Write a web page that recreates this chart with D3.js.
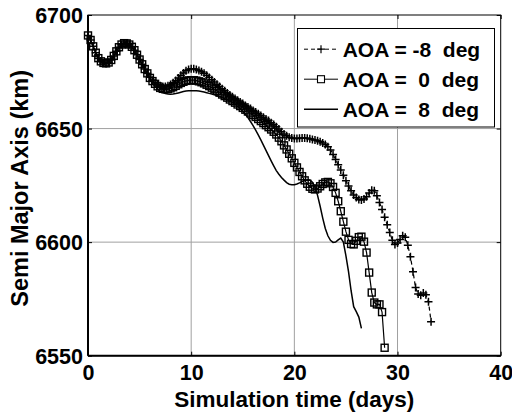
<!DOCTYPE html>
<html><head><meta charset="utf-8">
<script src="https://cdn.jsdelivr.net/npm/d3@7"></script>
<style>
html,body{margin:0;padding:0;background:#fff;}
text{font-family:"Liberation Sans",Arial,sans-serif;font-weight:bold;fill:#000;}
</style></head>
<body><svg id="c" width="512" height="417"></svg>
<script>
// ---------------- data ----------------
const timeStep = 0.25; // days between samples
const xTicks = [0, 10, 20, 30, 40];
const yTicks = [6550, 6600, 6650, 6700];
const legendLabels = ["AOA = -8  deg", "AOA =  0  deg", "AOA =  8  deg"];

// shared start of all three runs (t = 0 .. 5.5)
const sharedStart = [6691.0, 6689.0, 6686.2, 6683.4, 6681.0, 6679.6, 6678.9, 6678.7, 6679.1, 6680.2,
  6682.0, 6684.0, 6685.8, 6687.0, 6687.6, 6687.5, 6687.0, 6686.0, 6684.5, 6682.5,
  6680.4, 6678.3, 6676.2];

// AOA = -8 deg, from t = 5.75
const aoaMinus8 = [6674.3, 6672.6, 6671.2, 6670.2, 6669.3, 6668.8, 6668.5, 6668.5, 6668.8, 6669.4,
  6670.2, 6671.2, 6672.3, 6673.5, 6674.5, 6675.4, 6676.0, 6676.3, 6676.3, 6676.0,
  6675.6, 6675.0, 6674.3, 6673.5, 6672.5, 6671.5, 6670.5, 6669.5, 6668.5, 6667.5,
  6666.6, 6665.7, 6664.8, 6664.0, 6663.2, 6662.5, 6661.7, 6661.0, 6660.2, 6659.5,
  6658.8, 6658.0, 6657.3, 6656.5, 6655.8, 6655.0, 6654.2, 6653.5, 6652.6, 6651.8,
  6650.8, 6649.8, 6648.6, 6647.6, 6646.8, 6646.2, 6645.8, 6645.6, 6645.6, 6645.7,
  6645.8, 6645.8, 6645.7, 6645.5, 6645.2, 6645.0, 6644.6, 6644.2, 6643.6, 6643.0,
  6642.0, 6640.6, 6638.6, 6636.4, 6634.1, 6631.8, 6629.4, 6627.0, 6624.7, 6622.6,
  6620.8, 6619.6, 6618.8, 6618.6, 6619.0, 6620.0, 6621.6, 6622.8, 6622.6, 6620.4,
  6617.4, 6614.4, 6611.0, 6607.6, 6604.2, 6600.8, 6599.0, 6599.6, 6601.2, 6602.8,
  6602.2, 6598.6, 6593.6, 6587.0, 6580.0, 6577.2, 6576.6, 6577.6, 6576.8, 6573.8,
  6565.0];

// AOA = 0 deg, from t = 5.75
const aoaZero = [6674.3, 6672.3, 6670.9, 6669.7, 6668.6, 6667.9, 6667.5, 6667.3, 6667.4, 6667.7,
  6668.2, 6668.8, 6669.5, 6670.1, 6670.6, 6671.0, 6671.2, 6671.3, 6671.3, 6671.1,
  6670.8, 6670.4, 6669.9, 6669.3, 6668.7, 6668.0, 6667.3, 6666.6, 6665.8, 6665.0,
  6664.3, 6663.6, 6662.8, 6662.1, 6661.4, 6660.6, 6659.9, 6659.1, 6658.3, 6657.5,
  6656.7, 6655.9, 6655.1, 6654.2, 6653.3, 6652.4, 6651.5, 6650.6, 6649.6, 6648.6,
  6647.4, 6646.0, 6644.4, 6642.6, 6640.8, 6638.9, 6636.9, 6634.9, 6632.9, 6630.9,
  6629.0, 6627.2, 6625.7, 6624.4, 6623.5, 6623.2, 6623.6, 6624.6, 6625.6, 6626.3,
  6626.5, 6625.9, 6624.3, 6621.7, 6618.0, 6613.6, 6609.0, 6604.6, 6601.0, 6599.2,
  6599.0, 6600.6, 6602.2, 6602.4, 6600.2, 6595.4, 6586.6, 6577.8, 6573.4, 6572.6,
  6572.6, 6569.2, 6553.5];

// AOA = 8 deg, from t = 5.75
const aoaPlus8 = [6674.0, 6671.8, 6670.0, 6668.5, 6667.3, 6666.4, 6665.8, 6665.4, 6665.2, 6665.1,
  6665.2, 6665.4, 6665.7, 6666.0, 6666.3, 6666.5, 6666.6, 6666.7, 6666.7, 6666.6,
  6666.5, 6666.3, 6666.1, 6665.8, 6665.5, 6665.2, 6664.9, 6664.5, 6664.1, 6663.7,
  6663.2, 6662.7, 6662.1, 6661.5, 6660.7, 6659.8, 6658.8, 6657.6, 6656.3, 6654.8,
  6653.1, 6651.3, 6649.3, 6647.2, 6645.0, 6642.7, 6640.4, 6638.1, 6635.8, 6633.6,
  6631.5, 6629.9, 6628.5, 6627.3, 6626.2, 6625.5, 6625.3, 6625.3, 6625.6, 6626.1,
  6626.7, 6627.2, 6627.5, 6627.4, 6626.4, 6624.2, 6620.6, 6615.8, 6610.6, 6606.0,
  6602.8, 6600.8, 6599.9, 6600.0, 6601.0, 6601.8, 6600.0, 6594.0, 6587.0, 6578.6,
  6571.6, 6569.4, 6567.0, 6562.0];

// ---------------- chart ----------------
const svg = d3.select("#c");
const m = {left: 88, top: 15, right: 11.3, bottom: 61.3};
const W = 512 - m.left - m.right, H = 417 - m.top - m.bottom;
const x = d3.scaleLinear().domain([0, 40]).range([0, W]);
const y = d3.scaleLinear().domain([6550, 6700]).range([H, 0]);
const g = svg.append("g").attr("transform", `translate(${m.left},${m.top})`);
const fmt = d3.format("d");

function toPts(arr) {
  return sharedStart.concat(arr).map((v, i) => ({t: i * timeStep, a: v}));
}
const sM8 = toPts(aoaMinus8), s0 = toPts(aoaZero), s8 = toPts(aoaPlus8);

// grid
g.append("g").selectAll("line").data(xTicks.slice(1, -1)).join("line")
  .attr("x1", d => x(d)).attr("x2", d => x(d)).attr("y1", 0).attr("y2", H)
  .attr("stroke", "#a0a0a0").attr("stroke-width", 1);
g.append("g").selectAll("line").data(yTicks.slice(1, -1)).join("line")
  .attr("y1", d => y(d)).attr("y2", d => y(d)).attr("x1", 0).attr("x2", W)
  .attr("stroke", "#a0a0a0").attr("stroke-width", 1);

// axes
const xb = g.append("g").attr("transform", `translate(0,${H})`)
  .call(d3.axisBottom(x).tickValues(xTicks).tickFormat(fmt).tickSize(-4).tickPadding(0).tickSizeOuter(0));
xb.selectAll("text").attr("y", 24.5).attr("dy", null).style("font-size", "21.5px");
const xt = g.append("g").call(d3.axisTop(x).tickValues(xTicks).tickSize(-4).tickFormat("").tickSizeOuter(0));
const yl = g.append("g")
  .call(d3.axisLeft(y).tickValues(yTicks).tickFormat(fmt).tickSize(-4).tickPadding(0).tickSizeOuter(0));
yl.selectAll("text").attr("x", -5).attr("dy", "0.36em").style("font-size", "21.5px");
const yr = g.append("g").attr("transform", `translate(${W},0)`)
  .call(d3.axisRight(y).tickValues(yTicks).tickSize(-4).tickFormat("").tickSizeOuter(0));
[xb, xt, yl, yr].forEach(a => { a.select(".domain").remove(); a.selectAll("line").attr("stroke", "#000"); });
g.append("rect").attr("width", W).attr("height", H).attr("fill", "none")
  .attr("stroke", "#000").attr("stroke-width", 1);
g.append("line").attr("x1", 0).attr("x2", 0).attr("y1", 0).attr("y2", H).attr("stroke", "#000").attr("stroke-width", 2);
g.append("line").attr("x1", 0).attr("x2", W).attr("y1", H).attr("y2", H).attr("stroke", "#000").attr("stroke-width", 2);

const line = d3.line().x(d => x(d.t)).y(d => y(d.a));

// AOA = 8 : solid line
g.append("path").datum(s8).attr("d", line).attr("fill", "none").attr("stroke", "#000").attr("stroke-width", 1.5);

// AOA = 0 : line + squares
g.append("path").datum(s0).attr("d", line).attr("fill", "none").attr("stroke", "#000").attr("stroke-width", 1.2);
g.append("g").selectAll("rect").data(s0).join("rect")
  .attr("x", d => x(d.t) - 3.5).attr("y", d => y(d.a) - 3.5).attr("width", 7).attr("height", 7)
  .attr("fill", "none").attr("stroke", "#000").attr("stroke-width", 1.4);

// AOA = -8 : dashed line + plus
g.append("path").datum(sM8).attr("d", line).attr("fill", "none").attr("stroke", "#000")
  .attr("stroke-width", 1.2).attr("stroke-dasharray", "4,3");
g.append("g").selectAll("path").data(sM8).join("path")
  .attr("d", d => `M${x(d.t) - 4},${y(d.a)}H${x(d.t) + 4}M${x(d.t)},${y(d.a) - 4}V${y(d.a) + 4}`)
  .attr("stroke", "#000").attr("stroke-width", 1.5);

// legend
const lg = svg.append("g");
lg.append("rect").attr("x", 297.5).attr("y", 28.5).attr("width", 197).attr("height", 98.5)
  .attr("fill", "#fff").attr("stroke", "#000").attr("stroke-width", 1);
[0, 1, 2].forEach(i => {
  const cy = 49.2 + i * 30;
  const ln = lg.append("line").attr("x1", 304).attr("x2", 338).attr("y1", cy).attr("y2", cy)
    .attr("stroke", "#000").attr("stroke-width", i === 2 ? 1.5 : 1);
  if (i === 0) {
    ln.attr("stroke-dasharray", "4,3");
    lg.append("path").attr("d", `M317,${cy}H325M321,${cy - 4}V${cy + 4}`).attr("stroke", "#000").attr("stroke-width", 1.2);
  }
  if (i === 1) {
    lg.append("rect").attr("x", 317.5).attr("y", cy - 3.5).attr("width", 7).attr("height", 7)
      .attr("fill", "#fff").attr("stroke", "#000").attr("stroke-width", 1.1);
  }
  lg.append("text").attr("x", 342.7).attr("y", cy + 7.5).style("font-size", "21px")
    .style("white-space", "pre").attr("xml:space", "preserve").text(legendLabels[i]);
});

// axis titles
svg.append("text").attr("x", m.left + W / 2).attr("y", 407).attr("text-anchor", "middle")
  .style("font-size", "22.5px").text("Simulation time (days)");
svg.append("text").attr("transform", `translate(28,${m.top + H / 2 + 3}) rotate(-90)`)
  .attr("text-anchor", "middle").style("font-size", "23.5px").text("Semi Major Axis (km)");
</script></body></html>
